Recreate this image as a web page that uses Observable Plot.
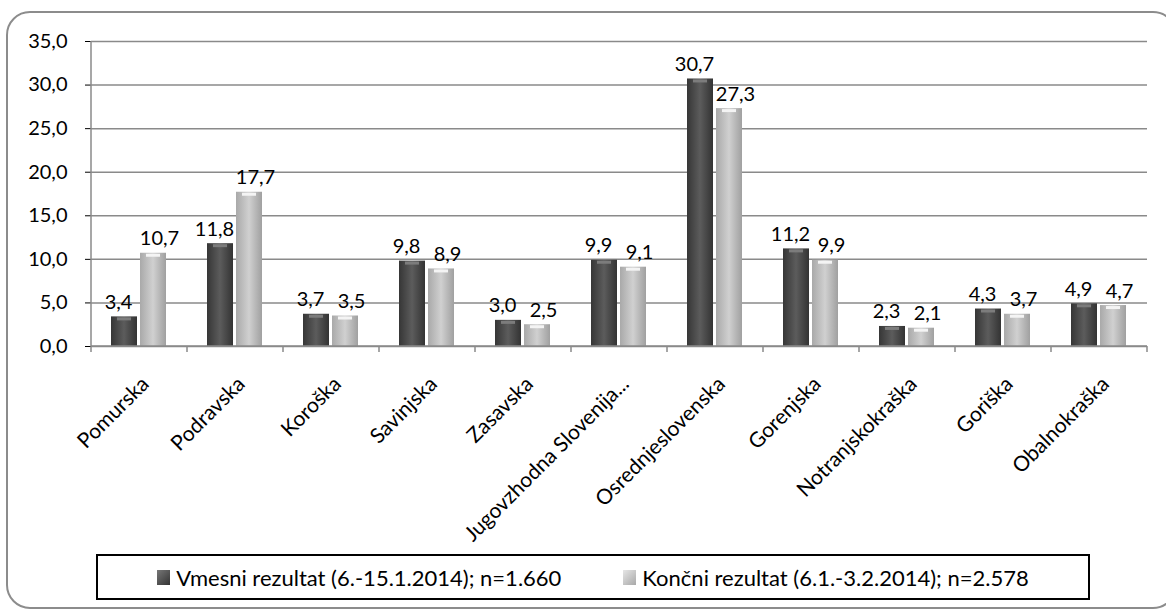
<!DOCTYPE html>
<html>
<head>
<meta charset="utf-8">
<script src="https://cdn.jsdelivr.net/npm/d3@7"></script>
<script src="https://cdn.jsdelivr.net/npm/@observablehq/plot@0.6"></script>
<style>
  html, body { margin: 0; padding: 0; background: #fff; overflow: hidden; }
  #wrap { position: relative; width: 1166px; height: 609px; }
  #frame { position: absolute; left: 6px; top: 11px; width: 1167px; height: 594px;
           border: 2px solid #8c8c8c; border-radius: 24px; pointer-events: none; z-index: 3; }
  #chart { position: absolute; left: 0; top: 0; }
  #legend { position: absolute; left: 96px; top: 554px; width: 990px; height: 42px;
            border: 2px solid #000; display: flex; align-items: center; justify-content: center;
            font-family: Lato, "Open Sans", sans-serif;
            font-size: 22px; color: #000; background: #fff; }
  .item { display: flex; align-items: center; }
  .item + .item { margin-left: 62px; }
  .sw { width: 13px; height: 15px; margin-right: 6px; }
</style>
</head>
<body>
<svg width="0" height="0" style="position:absolute">
  <defs>
    <linearGradient id="gDark" x1="0" x2="1" y1="0" y2="0">
      <stop offset="0" stop-color="#363636"/>
      <stop offset="0.5" stop-color="#5c5c5c"/>
      <stop offset="1" stop-color="#333333"/>
    </linearGradient>
    <linearGradient id="gLight" x1="0" x2="1" y1="0" y2="0">
      <stop offset="0" stop-color="#a9a9a9"/>
      <stop offset="0.5" stop-color="#d0d0d0"/>
      <stop offset="1" stop-color="#a0a0a0"/>
    </linearGradient>
  </defs>
</svg>
<div id="wrap">
  <div id="chart"></div>
  <div id="frame"></div>
  <div id="legend"></div>
</div>
<script>
const categories = ["Pomurska", "Podravska", "Koroška", "Savinjska", "Zasavska",
  "Jugovzhodna Slovenija...", "Osrednjeslovenska", "Gorenjska", "Notranjskokraška",
  "Goriška", "Obalnokraška"];
const seriesNames = ["Vmesni rezultat (6.-15.1.2014); n=1.660",
  "Končni rezultat (6.1.-3.2.2014); n=2.578"];
const vmesni = [3.4, 11.8, 3.7, 9.8, 3.0, 9.9, 30.7, 11.2, 2.3, 4.3, 4.9];
const koncni = [10.7, 17.7, 3.5, 8.9, 2.5, 9.1, 27.3, 9.9, 2.1, 3.7, 4.7];
const yTicks = [0, 5, 10, 15, 20, 25, 30, 35];
const seriesFills = ["url(#gDark)", "url(#gLight)"];
const swatchColors = ["linear-gradient(135deg,#777,#333)", "linear-gradient(135deg,#e6e6e6,#a8a8a8)"];

const fmt = d => d.toFixed(1).replace(".", ",");

const data = [];
categories.forEach((c, i) => {
  data.push({region: c, series: seriesNames[0], value: vmesni[i]});
  data.push({region: c, series: seriesNames[1], value: koncni[i]});
});
const dark = data.filter(d => d.series === seriesNames[0]);
const light = data.filter(d => d.series === seriesNames[1]);

const font = "Lato, 'Open Sans', sans-serif";

const chart = Plot.plot({
  width: 1166,
  height: 548,
  marginLeft: 88,
  marginRight: 16,
  marginTop: 41,
  marginBottom: 202,
  style: {background: "transparent", fontFamily: font, fontSize: "20px", color: "#000"},
  fx: {domain: categories, padding: 0, label: null, axis: null},
  x: {domain: seriesNames, paddingInner: 0.1, paddingOuter: 0.66, axis: null},
  y: {domain: [0, 35], ticks: yTicks, tickFormat: fmt, label: null, tickSize: 6,
      tickPadding: 18},
  marks: [
    Plot.ruleY(yTicks, {stroke: "#8a8a8a", strokeWidth: 1.5}),
    Plot.barY(dark, {fx: "region", x: "series", y: "value", fill: seriesFills[0]}),
    Plot.barY(light, {fx: "region", x: "series", y: "value", fill: seriesFills[1]}),
    Plot.tickY(dark, {fx: "region", x: "series", y: "value", stroke: "#7c7c7c", strokeWidth: 3, dy: 2, inset: 6}),
    Plot.tickY(light, {fx: "region", x: "series", y: "value", stroke: "#f4f4f4", strokeWidth: 3, dy: 2, inset: 6}),
    Plot.text(dark, {fx: "region", x: "series", y: "value", text: d => fmt(d.value),
      dy: -8, dx: -6, lineAnchor: "bottom", fontSize: 20, fill: "#000"}),
    Plot.text(light, {fx: "region", x: "series", y: "value", text: d => fmt(d.value),
      dy: -8, dx: 6, lineAnchor: "bottom", fontSize: 20, fill: "#000"}),
    Plot.text(categories, {fx: d => d, text: d => d, frameAnchor: "bottom",
      rotate: -45, textAnchor: "end", lineAnchor: "middle", dx: 6, dy: 34,
      fontSize: 21, fill: "#000"})
  ]
});
chart.querySelectorAll("text").forEach(t => t.setAttribute("fill", "#000"));
document.getElementById("chart").appendChild(chart);

// axis lines and category boundary ticks, from the plot's own scales
const fx = chart.scale("fx");
const ys = chart.scale("y");
const y0 = ys.apply(0), y35 = ys.apply(35);
const left = fx.apply(categories[0]);
const right = fx.apply(categories[categories.length - 1]) + fx.bandwidth;
const g = d3.select(chart).append("g").attr("stroke", "#8a8a8a").attr("stroke-width", 1.5);
g.append("line").attr("x1", left).attr("x2", left).attr("y1", y35).attr("y2", y0);
g.append("line").attr("x1", left).attr("x2", right).attr("y1", y0).attr("y2", y0);
const bounds = categories.map(c => fx.apply(c)).concat([right]);
g.selectAll(".bt").data(bounds).join("line")
  .attr("x1", d => d).attr("x2", d => d).attr("y1", y0).attr("y2", y0 + 6);

// legend
const legend = d3.select("#legend");
seriesNames.forEach((s, i) => {
  const it = legend.append("div").attr("class", "item");
  it.append("div").attr("class", "sw").style("background", swatchColors[i]);
  it.append("span").text(s);
});
</script>
</body>
</html>
